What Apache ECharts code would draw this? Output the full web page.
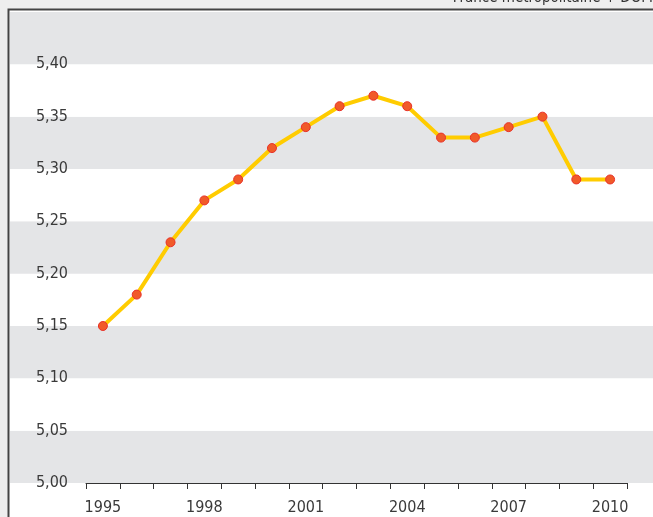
<!DOCTYPE html>
<html><head><meta charset="utf-8">
<script src="https://cdn.jsdelivr.net/npm/echarts@6/dist/echarts.min.js"></script>
<style>html,body{margin:0;padding:0;background:#eeeeee;}#c{width:653px;height:517px;}</style>
</head><body><div id="c"></div>
<script>
const years = ['1995','1996','1997','1998','1999','2000','2001','2002','2003','2004','2005','2006','2007','2008','2009','2010'];
const values = [5.15,5.18,5.23,5.27,5.29,5.32,5.34,5.36,5.37,5.36,5.33,5.33,5.34,5.35,5.29,5.29];
const yMin = 5.00, yMax = 5.45, yStep = 0.05;
const subtitle = 'France métropolitaine + DOM';
const FONT = '"DejaVu Sans Condensed","Liberation Sans Narrow",sans-serif';

const chart = echarts.init(document.getElementById('c'), null, {renderer:'canvas'});
chart.setOption({
  backgroundColor: '#eeeeee',
  animation: false,
  graphic: [
    {type:'rect', z:-10, shape:{x:8.5, y:9.5, width:660, height:520}, style:{fill:'#ffffff', stroke:'#444444', lineWidth:2}},
    {type:'text', z:10, right:0, top:-9, style:{text:subtitle, fill:'#333', font:'15px ' + FONT}}
  ],
  grid: [
    {left:10, right:0, top:12, bottom:34},
    {left:86, right:26, top:12, bottom:34}
  ],
  xAxis: [
    {gridIndex:0, type:'value', min:0, max:1, show:false},
    {gridIndex:1, type:'category', data:years, boundaryGap:true,
     axisLine:{lineStyle:{color:'#333', width:1}},
     axisTick:{show:true, length:6, interval:0, lineStyle:{color:'#333'}},
     axisLabel:{interval:2, color:'#3a3a3a', fontSize:16, fontFamily:FONT, margin:17}}
  ],
  yAxis: [
    {gridIndex:0, type:'value', min:yMin, max:yMax, interval:yStep,
     axisLine:{show:false}, axisTick:{show:false}, axisLabel:{show:false},
     splitLine:{show:false},
     splitArea:{show:true, areaStyle:{color:['#e4e5e7','#ffffff']}}},
    {gridIndex:1, type:'value', min:yMin, max:yMax, interval:yStep,
     axisLine:{show:false}, axisTick:{show:false}, splitLine:{show:false},
     axisLabel:{color:'#3a3a3a', fontSize:16, fontFamily:FONT, margin:18,
       showMaxLabel:false, verticalAlign:'middle', padding:[3,0,0,0],
       formatter: v => v.toFixed(2).replace('.', ',')}}
  ],
  series: [{
    type:'line', xAxisIndex:1, yAxisIndex:1, data:values,
    symbol:'circle', symbolSize:9,
    lineStyle:{color:'#ffcc00', width:4},
    itemStyle:{color:'#f15a29', borderColor:'#e8312a', borderWidth:1}
  }]
});
</script></body></html>
